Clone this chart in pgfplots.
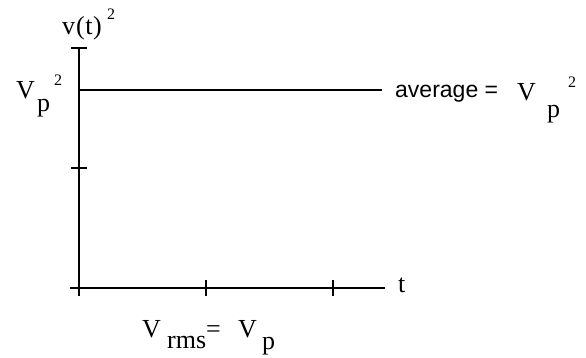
\documentclass[border=0pt]{standalone}
\usepackage{fontspec}
\setmainfont{Liberation Serif}
\newfontfamily\sansf{Liberation Sans}
\usepackage{pgfplots}
\pgfplotsset{compat=1.18}
\begin{document}
\begin{tikzpicture}[x=1pt,y=1pt]
\useasboundingbox (0,0) rectangle (586,357);
\begin{axis}[
  at={(70pt,69pt)}, anchor=south west,
  scale only axis, width=315pt, height=240pt,
  xmin=-0.07, xmax=2.41, ymin=0, ymax=2,
  enlargelimits=false,
  axis lines=middle,
  axis line style={-, line width=1.5pt},
  xtick={0,1,2}, ytick={0,1,2},
  xticklabels={}, yticklabels={},
  hide obscured x ticks=false, hide obscured y ticks=false,
  tick align=center, major tick length=16pt,
  tick style={black, line width=1.5pt},
  clip=false,
]
% average of v(t)^2
\addplot[black, line width=1.5pt] coordinates {(0,1.65) (2.39,1.65)};
\end{axis}
\tikzset{lbl/.style={anchor=base west, inner sep=0pt},
  big/.style={font=\fontsize{26}{26}\selectfont},
  sup/.style={font=\fontsize{16}{16}\selectfont}}
% y label
\node[lbl,big] at (62,322) {v\kern1pt(\kern0.5pt t\kern0.5pt)};
\node[lbl,sup] at (107,337) {2};
% left value
\node[lbl,big] at (16,259) {V};
\node[lbl,big] at (37,246) {p};
\node[lbl,sup] at (54,272) {2};
% right annotation
\node[lbl,font=\sansf\fontsize{23}{23}\selectfont] at (395,260) {average =};
\node[lbl,big] at (517,257) {V};
\node[lbl,big] at (547,240) {p};
\node[lbl,sup] at (568,270) {2};
% x label
\node[lbl,big] at (398,65) {t};
% rms
\node[lbl,big] at (142,20) {V};
\node[lbl,big] at (167,9) {rms};
\node[lbl,big] at (206,20) {=};
\node[lbl,big] at (238,20) {V};
\node[lbl,big] at (262,8) {p};
\end{tikzpicture}
\end{document}
